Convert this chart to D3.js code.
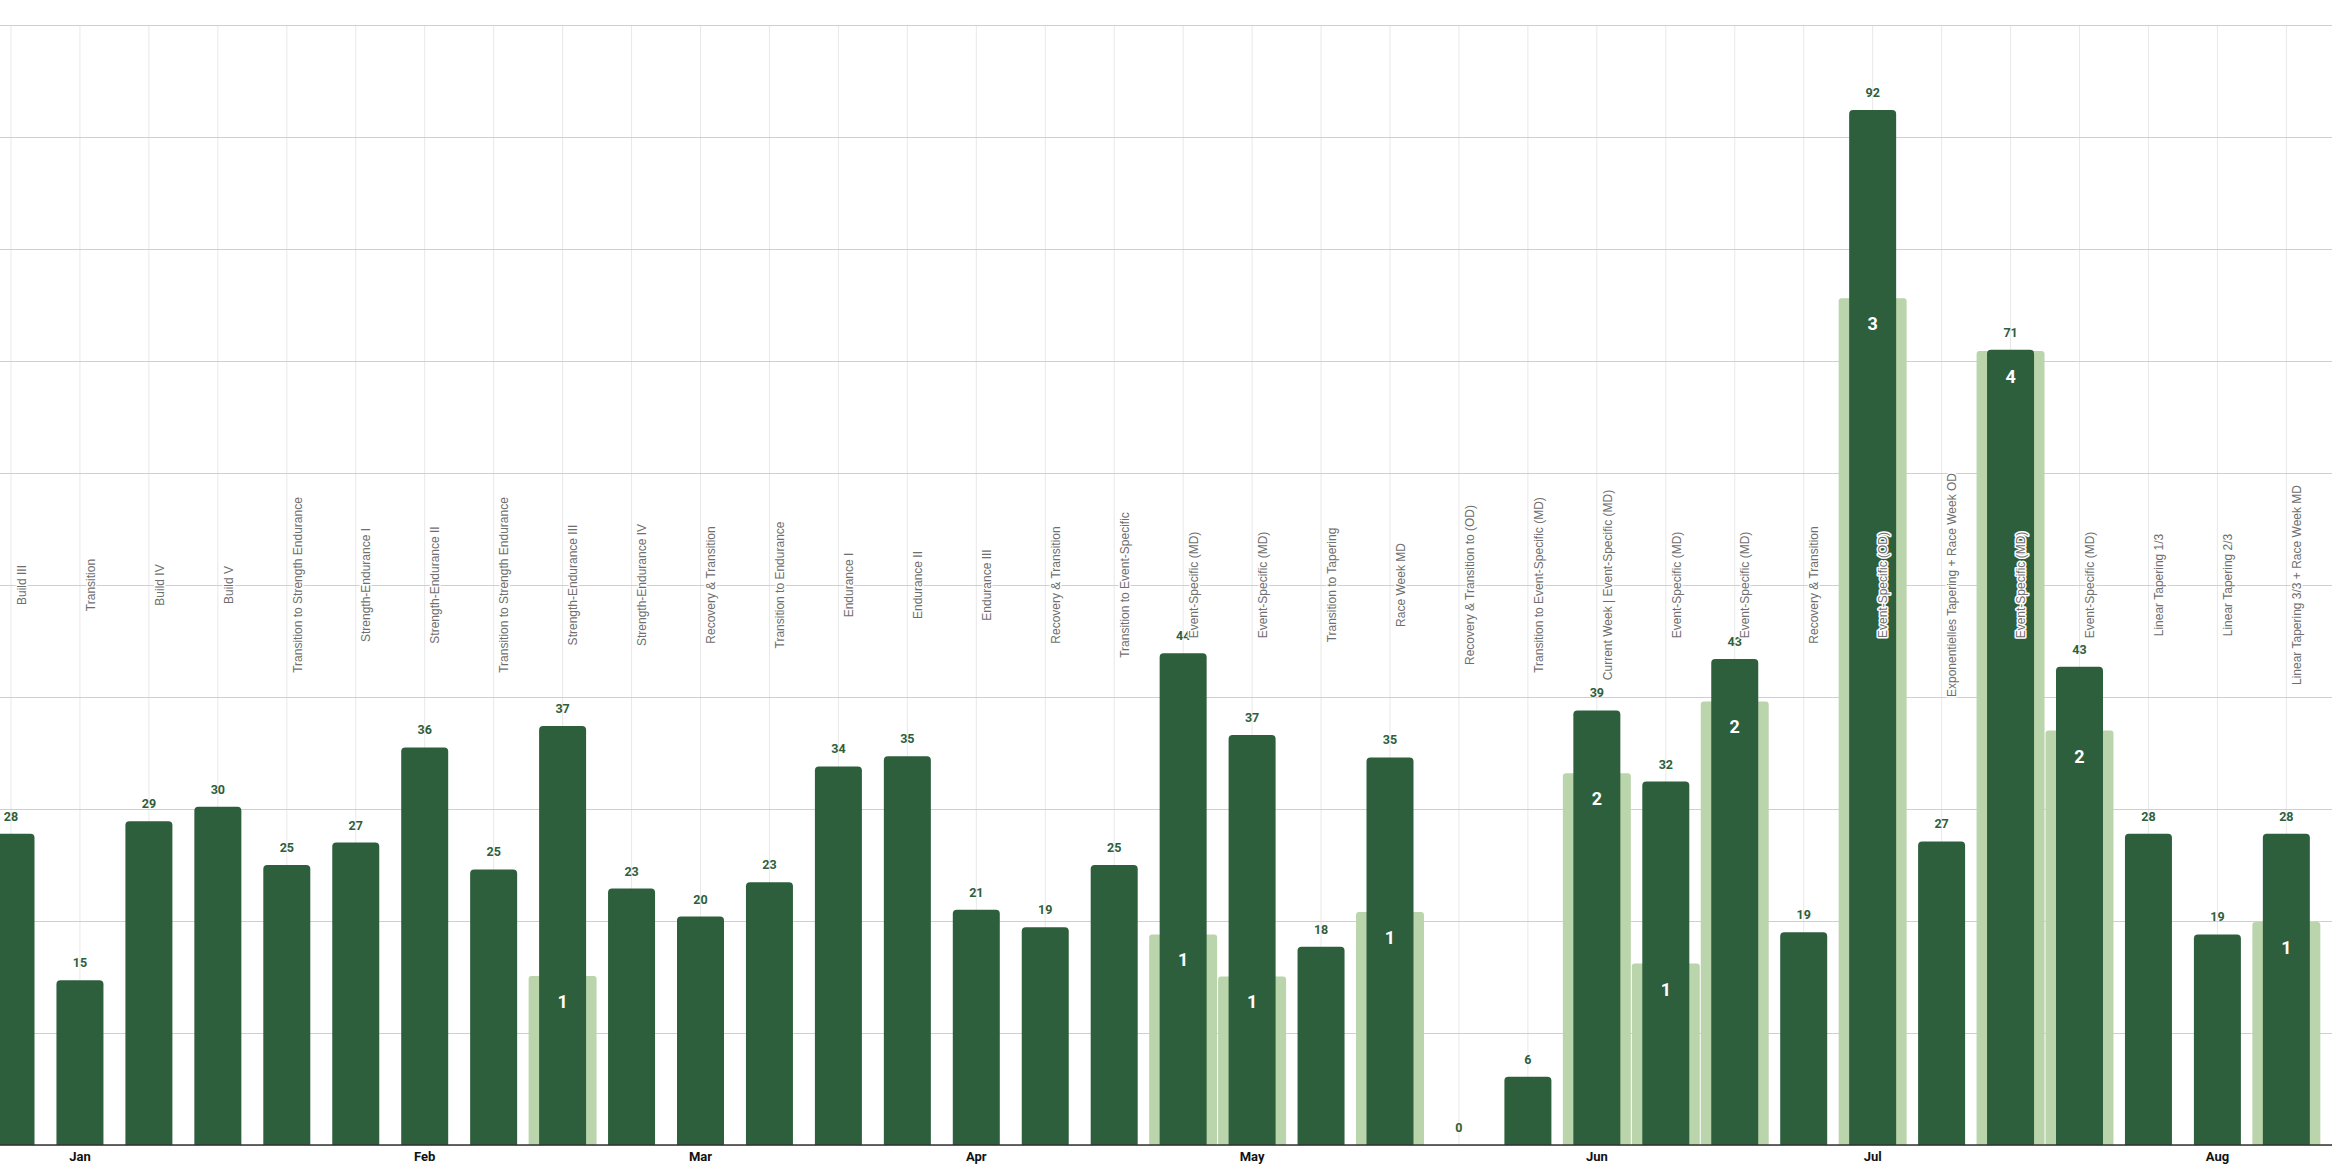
<!DOCTYPE html>
<html>
<head>
<meta charset="utf-8">
<script src="https://cdn.jsdelivr.net/npm/d3@7"></script>
<style>
  html, body { margin: 0; padding: 0; background: #ffffff; }
  svg { display: block; }
</style>
</head>
<body>
<svg id="chart" width="2332" height="1176"></svg>
<script>
// ---------------- DATA ----------------
const phases = [
  "Build III", "Transition", "Build IV", "Build V",
  "Transition to Strength Endurance", "Strength-Endurance I", "Strength-Endurance II",
  "Transition to Strength Endurance", "Strength-Endurance III", "Strength-Endurance IV",
  "Recovery & Transition", "Transition to Endurance", "Endurance I", "Endurance II",
  "Endurance III", "Recovery & Transition", "Transition to Event-Specific",
  "Event-Specific (MD)", "Event-Specific (MD)", "Transition to Tapering", "Race Week MD",
  "Recovery & Transition to (OD)", "Transition to Event-Specific (MD)",
  "Current Week | Event-Specific (MD)", "Event-Specific (MD)", "Event-Specific (MD)",
  "Recovery & Transition", "Event-Specific (OD)", "Exponentielles Tapering + Race Week OD",
  "Event-Specific (MD)", "Event-Specific (MD)", "Linear Tapering 1/3",
  "Linear Tapering 2/3", "Linear Tapering 3/3 + Race Week MD"
];

// weekly volume (bar heights, labels shown rounded)
const weeklyVolume = [27.8, 14.7, 28.9, 30.2, 25.0, 27.0, 35.5, 24.6, 37.4, 22.9, 20.4, 23.45,
  33.8, 34.7, 21.0, 19.45, 25.0, 43.9, 36.6, 17.7, 34.6, 0, 6.1, 38.8, 32.45, 43.4, 19.0,
  92.4, 27.1, 71.0, 42.7, 27.8, 18.8, 27.8];

// light background bars (race load) and their race counts
const raceLoad = [null, null, null, null, null, null, null, null, 15.1, null, null, null, null, null,
  null, null, null, 18.8, 15.05, null, 20.8, null, null, 33.2, 16.2, 39.6, null, 75.6, null,
  70.9, 37, null, null, 19.9];
const raceCount = [null, null, null, null, null, null, null, null, 1, null, null, null, null, null,
  null, null, null, 1, 1, null, 1, null, null, 2, 1, 2, null, 3, null,
  4, 2, null, null, 1];

const monthTicks = ["", "Jan", "", "", "", "", "Feb", "", "", "", "Mar", "", "", "", "Apr", "",
  "", "", "May", "", "", "", "", "Jun", "", "", "", "Jul", "", "", "", "", "Aug", ""];

const yTicks = [0, 10, 20, 30, 40, 50, 60, 70, 80, 90, 100];

// ---------------- LAYOUT ----------------
const W = 2332, H = 1176;
const plotTop = 25, plotBase = 1145;
const step = 68.95;
const firstCenter = 11;
const DARK = "#2d5f3d", LIGHT = "#bad4ab";

const svg = d3.select("#chart");
const idx = d3.range(weeklyVolume.length);

const x = d3.scaleBand()
  .domain(idx)
  .range([firstCenter - step / 2, firstCenter - step / 2 + step * idx.length])
  .paddingInner(0).paddingOuter(0);
const cx = i => x(i) + x.bandwidth() / 2;

const y = d3.scaleLinear().domain([0, 100]).range([plotBase, plotTop]);

function roundTop(x0, y0, w, h, r) {
  if (h <= 0) return "";
  r = Math.min(r, h, w / 2);
  return `M${x0},${y0 + h}V${y0 + r}Q${x0},${y0} ${x0 + r},${y0}H${x0 + w - r}` +
         `Q${x0 + w},${y0} ${x0 + w},${y0 + r}V${y0 + h}Z`;
}

// vertical grid
svg.append("g").selectAll("line").data(idx).join("line")
  .attr("x1", cx).attr("x2", cx).attr("y1", plotTop).attr("y2", plotBase)
  .attr("stroke", "#e8e8e8").attr("stroke-width", 1);

// horizontal grid via axis
const yAxis = svg.append("g")
  .call(d3.axisRight(y).tickValues(yTicks).tickSize(W).tickFormat(""));
yAxis.select(".domain").remove();
yAxis.selectAll(".tick line").attr("stroke", "#cfcfcf").attr("stroke-width", 1.2);

// light bars
const lightW = step - 1;
svg.append("g").selectAll("path").data(idx.filter(i => raceLoad[i] != null)).join("path")
  .attr("d", i => roundTop(cx(i) - lightW / 2, y(raceLoad[i]), lightW, plotBase - y(raceLoad[i]), 3))
  .attr("fill", LIGHT);

// dark bars
const darkW = 47;
svg.append("g").selectAll("path").data(idx).join("path")
  .attr("d", i => roundTop(cx(i) - darkW / 2, y(weeklyVolume[i]), darkW, plotBase - y(weeklyVolume[i]), 4))
  .attr("fill", DARK);

// value labels
svg.append("g").selectAll("text").data(idx).join("text")
  .attr("x", cx).attr("y", i => y(weeklyVolume[i]) - 13)
  .attr("text-anchor", "middle")
  .attr("font-family", "Roboto, sans-serif").attr("font-weight", 700).attr("font-size", 12.5)
  .attr("fill", DARK)
  .text(i => Math.round(weeklyVolume[i]));

// race count labels
svg.append("g").selectAll("text").data(idx.filter(i => raceCount[i] != null)).join("text")
  .attr("x", cx).attr("y", i => y(raceLoad[i]) + 32)
  .attr("text-anchor", "middle")
  .attr("font-family", "Roboto, sans-serif").attr("font-weight", 700).attr("font-size", 18)
  .attr("fill", "#ffffff")
  .text(i => raceCount[i]);

// x axis (months)
const xAxis = svg.append("g")
  .attr("transform", `translate(0,${plotBase})`)
  .call(d3.axisBottom(x).tickSize(0).tickPadding(7).tickFormat(i => monthTicks[i]));
xAxis.select(".domain").attr("stroke", "#333").attr("stroke-width", 1.5)
  .attr("d", `M0,0H${W}`);
xAxis.selectAll(".tick text")
  .attr("font-family", "Roboto, sans-serif").attr("font-weight", 700).attr("font-size", 13)
  .attr("fill", "#111");

// phase labels (rotated)
const midY = (plotTop + plotBase) / 2;
svg.append("g").selectAll("text").data(idx).join("text")
  .attr("transform", i => `translate(${cx(i) + 10.5},${midY}) rotate(-90)`)
  .attr("dy", "0.35em")
  .attr("text-anchor", "middle")
  .attr("font-family", "'Liberation Sans', Arial, sans-serif").attr("font-size", 12)
  .attr("fill", "#6e6e6e")
  .attr("stroke", "#ffffff").attr("stroke-width", 3).attr("stroke-linejoin", "round")
  .attr("paint-order", "stroke")
  .text(i => phases[i]);
</script>
</body>
</html>
